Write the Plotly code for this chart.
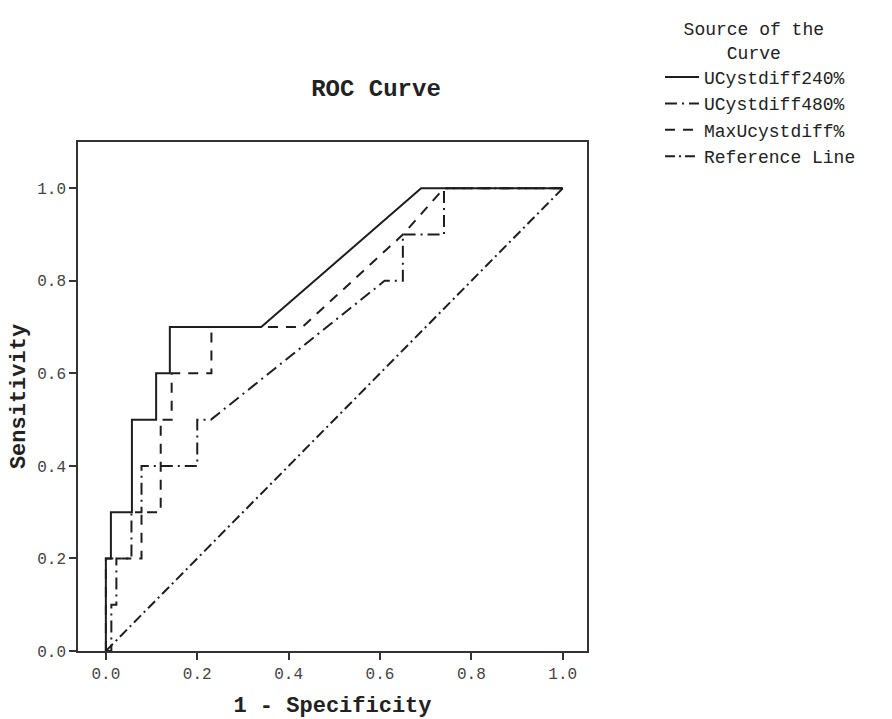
import plotly.graph_objects as go

# ROC curve data (1 - Specificity, Sensitivity)
fpr_240 = [0.0, 0.0, 0.011, 0.011, 0.057, 0.057, 0.11, 0.11, 0.14, 0.14, 0.34, 0.69, 1.0]
tpr_240 = [0.0, 0.2, 0.2, 0.3, 0.3, 0.5, 0.5, 0.6, 0.6, 0.7, 0.7, 1.0, 1.0]

fpr_480 = [0.0, 0.012, 0.012, 0.023, 0.023, 0.056, 0.056, 0.078, 0.078, 0.2, 0.2, 0.23, 0.61, 0.65, 0.65, 0.74, 0.74, 1.0]
tpr_480 = [0.0, 0.0, 0.1, 0.1, 0.2, 0.2, 0.3, 0.3, 0.4, 0.4, 0.5, 0.5, 0.8, 0.8, 0.9, 0.9, 1.0, 1.0]

fpr_max = [0.0, 0.0, 0.078, 0.078, 0.12, 0.12, 0.144, 0.144, 0.231, 0.231, 0.43, 0.65, 0.74, 1.0]
tpr_max = [0.0, 0.2, 0.2, 0.3, 0.3, 0.5, 0.5, 0.6, 0.6, 0.7, 0.7, 0.9, 1.0, 1.0]

fpr_ref = [0.0, 1.0]
tpr_ref = [0.0, 1.0]

series_names = ["UCystdiff240%", "UCystdiff480%", "MaxUcystdiff%", "Reference Line"]
tick_vals = [0.0, 0.2, 0.4, 0.6, 0.8, 1.0]
tick_text = ["0.0", "0.2", "0.4", "0.6", "0.8", "1.0"]

FONT = "Liberation Mono, Courier New, monospace"
INK = "#1e1e1e"
NB = "\u00a0"

fig = go.Figure()
series = [
    (fpr_240, tpr_240, "solid"),
    (fpr_480, tpr_480, "12px,5px,2px,5px"),
    (fpr_max, tpr_max, "10px,8px"),
    (fpr_ref, tpr_ref, "10px,4px,2px,4px"),
]
for (xs, ys, dash), name in zip(series, series_names):
    fig.add_trace(go.Scatter(
        x=xs, y=ys, mode="lines", name=name,
        line=dict(color=INK, width=2, dash=dash),
    ))

legend_title = NB * 2 + "Source of the<br>" + NB * 6 + "Curve"

fig.update_layout(
    width=892, height=719,
    margin=dict(l=78, r=305, t=142, b=68),
    paper_bgcolor="white", plot_bgcolor="white",
    font=dict(family=FONT, color="#333", size=15),
    title=dict(text="<b>ROC Curve</b>", x=376 / 892, xanchor="center",
               y=1 - 88 / 719, yanchor="middle",
               font=dict(family=FONT, size=24, color="#222")),
    showlegend=True,
    legend=dict(
        xref="container", yref="container",
        x=660 / 892, xanchor="left", y=1 - 12 / 719, yanchor="top",
        bgcolor="rgba(0,0,0,0)", borderwidth=0,
        font=dict(family=FONT, size=18, color="#222"),
        itemwidth=34,
        title=dict(text=legend_title, side="top",
                   font=dict(family=FONT, size=18, color="#222")),
    ),
)

fig.update_xaxes(
    range=[-0.061, 1.053], tickvals=tick_vals, ticktext=tick_text,
    showgrid=False, zeroline=False, automargin=False,
    showline=True, mirror=True, linecolor="#333", linewidth=1.5,
    ticks="outside", ticklen=7, tickwidth=1.5, tickcolor="#333",
    tickfont=dict(family=FONT, size=16, color="#444"),
    title=dict(text="<b>1 - Specificity</b>", standoff=20,
               font=dict(family=FONT, size=22, color="#222")),
)
fig.update_yaxes(
    range=[0, 1.1], tickvals=tick_vals, ticktext=tick_text,
    showgrid=False, zeroline=False, automargin=False,
    showline=True, mirror=True, linecolor="#333", linewidth=1.5,
    ticks="outside", ticklen=7, tickwidth=1.5, tickcolor="#333",
    tickfont=dict(family=FONT, size=16, color="#444"),
    title=dict(text="<b>Sensitivity</b>", standoff=6,
               font=dict(family=FONT, size=22, color="#222")),
)

fig.write_html("out.html")
